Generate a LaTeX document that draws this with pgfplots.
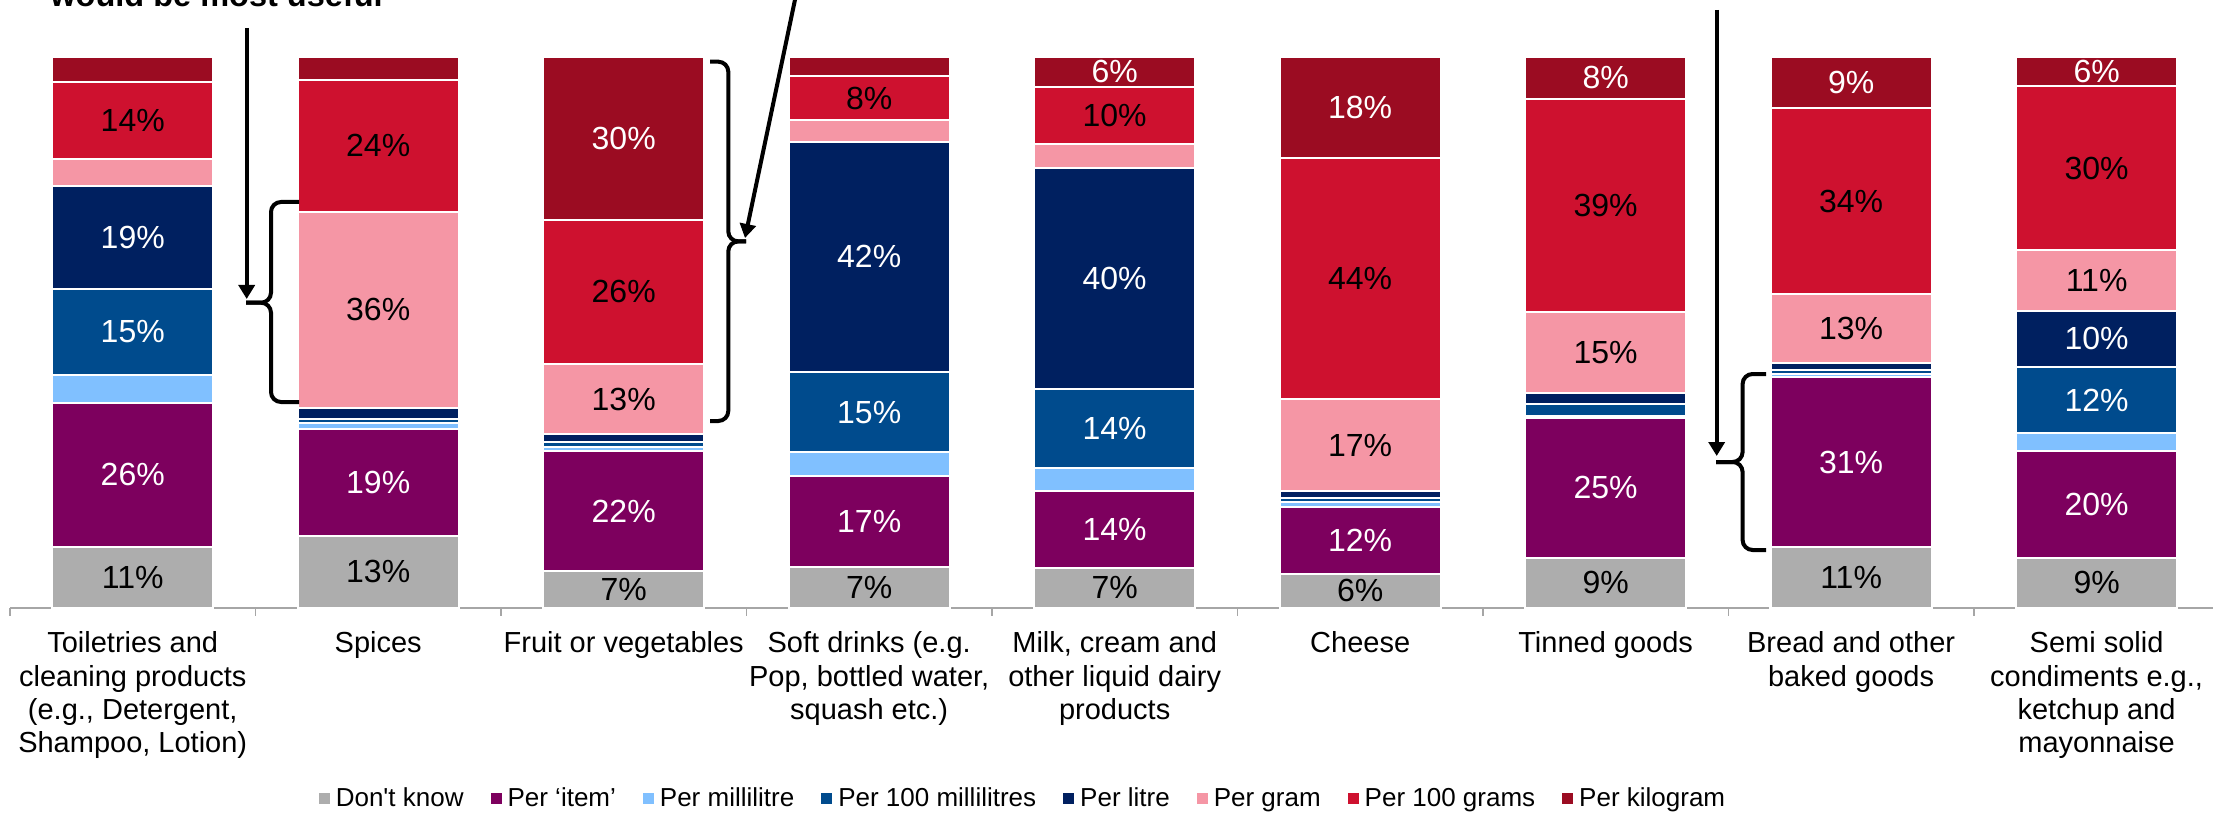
\documentclass[border=0pt]{standalone}
\usepackage{fontspec}
\setmainfont{Liberation Sans}
\usepackage{pgfplots}
\pgfplotsset{compat=1.18}
\usepackage{pgfplotstable}
\usetikzlibrary{arrows.meta}
\definecolor{cdk}{RGB}{173,173,173}
\definecolor{cit}{RGB}{125,0,94}
\definecolor{cml}{RGB}{128,192,255}
\definecolor{chml}{RGB}{0,75,141}
\definecolor{cl}{RGB}{0,32,96}
\definecolor{cg}{RGB}{245,150,165}
\definecolor{chg}{RGB}{206,17,47}
\definecolor{ckg}{RGB}{155,12,34}
\definecolor{axisgray}{RGB}{166,166,166}
\pgfplotstableread{
x dk dkL it itL ml mlL hml hmlL l lL g gL hg hgL kg kgL
0 11 11 26.2 26 5.1 0 15.5 15 18.8 19 4.9 0 13.9 14 4.6 0
1 13 13 19.4 19 1.1 0 0.8 0 1.9 0 35.7 36 23.9 24 4.2 0
2 6.7 7 21.7 22 0.8 0 0.8 0 1.5 0 12.7 13 26.2 26 29.6 30
3 7.3 7 16.6 17 4.3 0 14.6 15 41.8 42 3.9 0 8.0 8 3.5 0
4 7.2 7 13.9 14 4.3 0 14.3 14 40.1 40 4.4 0 10.3 10 5.5 6
5 6.2 6 12.1 12 0.8 0 0.8 0 1.3 0 16.6 17 43.9 44 18.3 18
6 9 9 25.5 25 0.3 0 2.1 0 2.1 0 14.6 15 38.7 39 7.7 8
7 11 11 30.8 31 0.7 0 0.7 0 1.2 0 12.5 13 33.7 34 9.4 9
8 9 9 19.5 20 3.2 0 12.0 12 10.2 10 11.0 11 29.7 30 5.4 6
}\data
\begin{document}
\begin{tikzpicture}
\begin{axis}[
  width=1104.75pt, height=275.5pt, scale only axis,
  xmin=-0.5, xmax=8.5, ymin=0, ymax=100,
  clip=false,
  ybar stacked, bar width=0.657, bar shift=0pt,
  axis x line*=bottom, axis y line=none,
  x axis line style={draw=axisgray, line width=0.8pt},
  xtick={0,...,8},
  xticklabels={{Toiletries and\\cleaning products\\(e.g., Detergent,\\Shampoo, Lotion)},
    Spices, Fruit or vegetables,
    {Soft drinks (e.g.\\Pop, bottled water,\\squash etc.)},
    {Milk, cream and\\other liquid dairy\\products},
    Cheese, Tinned goods,
    {Bread and other\\baked goods},
    {Semi solid\\condiments e.g.,\\ketchup and\\mayonnaise}},
  major tick length=0pt,
  minor xtick={-0.5,0.5,...,8.5}, minor tick length=4pt, tick align=outside,
  minor tick style={draw=axisgray, line width=0.8pt},
  xticklabel style={align=center, font=\fontsize{14.5pt}{16.65pt}\selectfont, yshift=-8.5pt},
  ytick=\empty,
  point meta=explicit,
  /pgf/number format/assume math mode=true,
  nodes near coords={\pgfmathfloatifflags{\pgfplotspointmeta}{0}{}{\pgfmathprintnumber{\pgfplotspointmeta}\%}},
  every node near coord/.append style={anchor=center, font=\fontsize{16pt}{19pt}\selectfont},
  legend style={at={(0.4585,-0.347)}, anchor=center, draw=none, fill=none,
    legend columns=-1, font=\fontsize{13pt}{15pt}\selectfont,
    /tikz/every even column/.append style={column sep=10.5pt}},
  legend image code/.code={\fill[#1] (0pt,-3.25pt) rectangle (6.5pt,3.25pt);},
]
\addplot[fill=cdk, draw=white, line width=1pt, every node near coord/.append style={text=black}] table[x=x, y=dk, meta=dkL] {\data};
\addlegendentry{Don\textquotesingle t know}
\addplot[fill=cit, draw=white, line width=1pt, every node near coord/.append style={text=white}] table[x=x, y=it, meta=itL] {\data};
\addlegendentry{Per ‘item’}
\addplot[fill=cml, draw=white, line width=1pt, every node near coord/.append style={text=black}] table[x=x, y=ml, meta=mlL] {\data};
\addlegendentry{Per millilitre}
\addplot[fill=chml, draw=white, line width=1pt, every node near coord/.append style={text=white}] table[x=x, y=hml, meta=hmlL] {\data};
\addlegendentry{Per 100 millilitres}
\addplot[fill=cl, draw=white, line width=1pt, every node near coord/.append style={text=white}] table[x=x, y=l, meta=lL] {\data};
\addlegendentry{Per litre}
\addplot[fill=cg, draw=white, line width=1pt, every node near coord/.append style={text=black}] table[x=x, y=g, meta=gL] {\data};
\addlegendentry{Per gram}
\addplot[fill=chg, draw=white, line width=1pt, every node near coord/.append style={text=black}] table[x=x, y=hg, meta=hgL] {\data};
\addlegendentry{Per 100 grams}
\addplot[fill=ckg, draw=white, line width=1pt, every node near coord/.append style={text=white}] table[x=x, y=kg, meta=kgL] {\data};
\addlegendentry{Per kilogram}
\coordinate (O) at (rel axis cs:0,0);
\end{axis}
\begin{scope}[shift={(O)}, xshift=-5pt, yshift=303.85pt, x=0.5pt, y=-0.5pt]
  \node[anchor=base west, inner sep=0pt, font=\bfseries\fontsize{16.25pt}{19pt}\selectfont] at (50,6.5) {would be most useful};
  % arrow 1 + brace on Spices
  \draw[line width=2pt, -{Triangle[width=8pt,length=7pt]}] (246.7,28) -- (246.7,299);
  \draw[line width=2pt, rounded corners=5pt] (299,202) -| (271,302.7) -- (246,302.7);
  \draw[line width=2pt, rounded corners=5pt] (299,402) -| (271,302.7) -- (246,302.7);
  % arrow 2 + brace on Fruit or vegetables
  \draw[line width=2pt, -{Triangle[width=8pt,length=7pt]}] (796,-5) -- (745,238);
  \draw[line width=2pt, rounded corners=5pt] (710,61.7) -| (728.3,241.4) -- (746,241.4);
  \draw[line width=2pt, rounded corners=5pt] (710,421) -| (728.3,241.4) -- (746,241.4);
  % arrow 3 + brace on Bread
  \draw[line width=2pt, -{Triangle[width=8pt,length=7pt]}] (1716.7,10) -- (1716.7,456);
  \draw[line width=2pt, rounded corners=5pt] (1766,374) -| (1742.6,462) -- (1716,462);
  \draw[line width=2pt, rounded corners=5pt] (1766,550) -| (1742.6,462) -- (1716,462);
  \pgfresetboundingbox
  \useasboundingbox (0,0) rectangle (2213,815);
\end{scope}
\end{tikzpicture}
\end{document}
